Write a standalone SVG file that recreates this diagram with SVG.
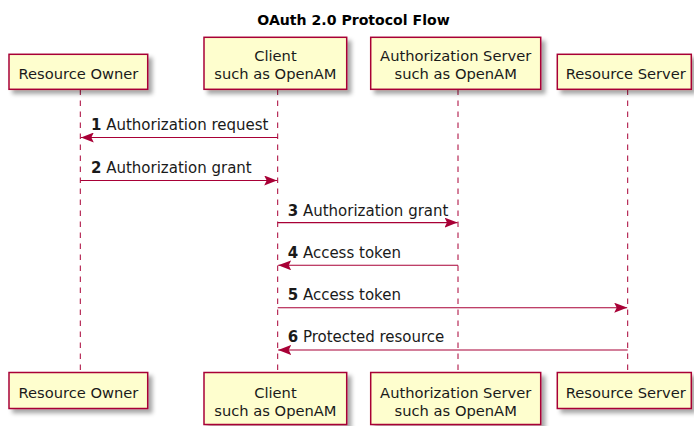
<svg xmlns="http://www.w3.org/2000/svg" width="694" height="426" viewBox="0 0 694 426">
<defs>
<filter id="shadow" x="-10%" y="-20%" width="130%" height="160%">
<feDropShadow dx="4" dy="4" stdDeviation="2" flood-color="#000" flood-opacity="0.35"/>
</filter>
<marker id="ah" viewBox="0 0 13 10" refX="13" refY="5" markerWidth="13" markerHeight="10" markerUnits="userSpaceOnUse" orient="auto">
<polygon points="0,0 13,5 0,10 2.5,5" fill="#A80036"/>
</marker>
<style>
.box{fill:#FEFECE;stroke:#A80036;stroke-width:1.5;filter:url(#shadow)}
.life{stroke:#A80036;stroke-width:1;stroke-dasharray:5.5,5.5;fill:none}
.pt{font-family:"DejaVu Sans",Verdana,sans-serif;font-size:14.7px;fill:#1a1a1a;text-anchor:middle}
.msg{stroke:#A80036;stroke-width:1.1;fill:none}
.ml{font-family:"DejaVu Sans",Verdana,sans-serif;font-size:15px;fill:#1a1a1a}
.num{font-weight:bold}
.title{font-family:"DejaVu Sans",Verdana,sans-serif;font-size:14.1px;font-weight:bold;fill:#000;text-anchor:middle}
</style>
</defs>
<rect width="694" height="426" fill="#FFFFFF"/>
<text class="title" x="353.5" y="25">OAuth 2.0 Protocol Flow</text>

<g id="resource-owner">
<line class="life" x1="80.3" y1="89.5" x2="80.3" y2="372.5"/>
<rect class="box" x="9" y="54.3" width="138.7" height="35"/>
<text class="pt" x="78.4" y="78.6">Resource Owner</text>
<rect class="box" x="9" y="372.5" width="138.7" height="36"/>
<text class="pt" x="78.4" y="397.5">Resource Owner</text>
</g>

<g id="client">
<line class="life" x1="277.7" y1="89.5" x2="277.7" y2="372.5"/>
<rect class="box" x="204" y="37.3" width="142.7" height="52"/>
<text class="pt" x="275.4" y="60.5">Client</text>
<text class="pt" x="275.4" y="79">such as OpenAM</text>
<rect class="box" x="204" y="372.5" width="142.7" height="52"/>
<text class="pt" x="275.4" y="398">Client</text>
<text class="pt" x="275.4" y="416">such as OpenAM</text>
</g>

<g id="authorization-server">
<line class="life" x1="458" y1="89.5" x2="458" y2="372.5"/>
<rect class="box" x="370.7" y="37.3" width="170" height="52"/>
<text class="pt" x="455.7" y="60.5">Authorization Server</text>
<text class="pt" x="455.7" y="79">such as OpenAM</text>
<rect class="box" x="370.7" y="372.5" width="170" height="52"/>
<text class="pt" x="455.7" y="398">Authorization Server</text>
<text class="pt" x="455.7" y="416">such as OpenAM</text>
</g>

<g id="resource-server">
<line class="life" x1="627.7" y1="89.5" x2="627.7" y2="372.5"/>
<rect class="box" x="557.3" y="54.3" width="134" height="35"/>
<text class="pt" x="625.8" y="78.6" font-size="14.4">Resource Server</text>
<rect class="box" x="557.3" y="372.5" width="134" height="36"/>
<text class="pt" x="625.8" y="397.5" font-size="14.4">Resource Server</text>
</g>

<g id="connectors">
<line class="msg" x1="277.7" y1="137.5" x2="80.8" y2="137.5" marker-end="url(#ah)"/>
<text class="ml" x="91" y="130"><tspan class="num">1</tspan> Authorization request</text>

<line class="msg" x1="80.3" y1="180.5" x2="277.2" y2="180.5" marker-end="url(#ah)"/>
<text class="ml" x="91" y="172.8"><tspan class="num">2</tspan> Authorization grant</text>

<line class="msg" x1="277.7" y1="222.6" x2="457.5" y2="222.6" marker-end="url(#ah)"/>
<text class="ml" x="287.7" y="215.5"><tspan class="num">3</tspan> Authorization grant</text>

<line class="msg" x1="458" y1="265.3" x2="278.2" y2="265.3" marker-end="url(#ah)"/>
<text class="ml" x="287.7" y="258"><tspan class="num">4</tspan> Access token</text>

<line class="msg" x1="277.7" y1="307.7" x2="627.2" y2="307.7" marker-end="url(#ah)"/>
<text class="ml" x="287.7" y="300.2"><tspan class="num">5</tspan> Access token</text>

<line class="msg" x1="627.7" y1="350" x2="278.2" y2="350" marker-end="url(#ah)"/>
<text class="ml" x="287.7" y="342.4"><tspan class="num">6</tspan> Protected resource</text>
</g>
</svg>
